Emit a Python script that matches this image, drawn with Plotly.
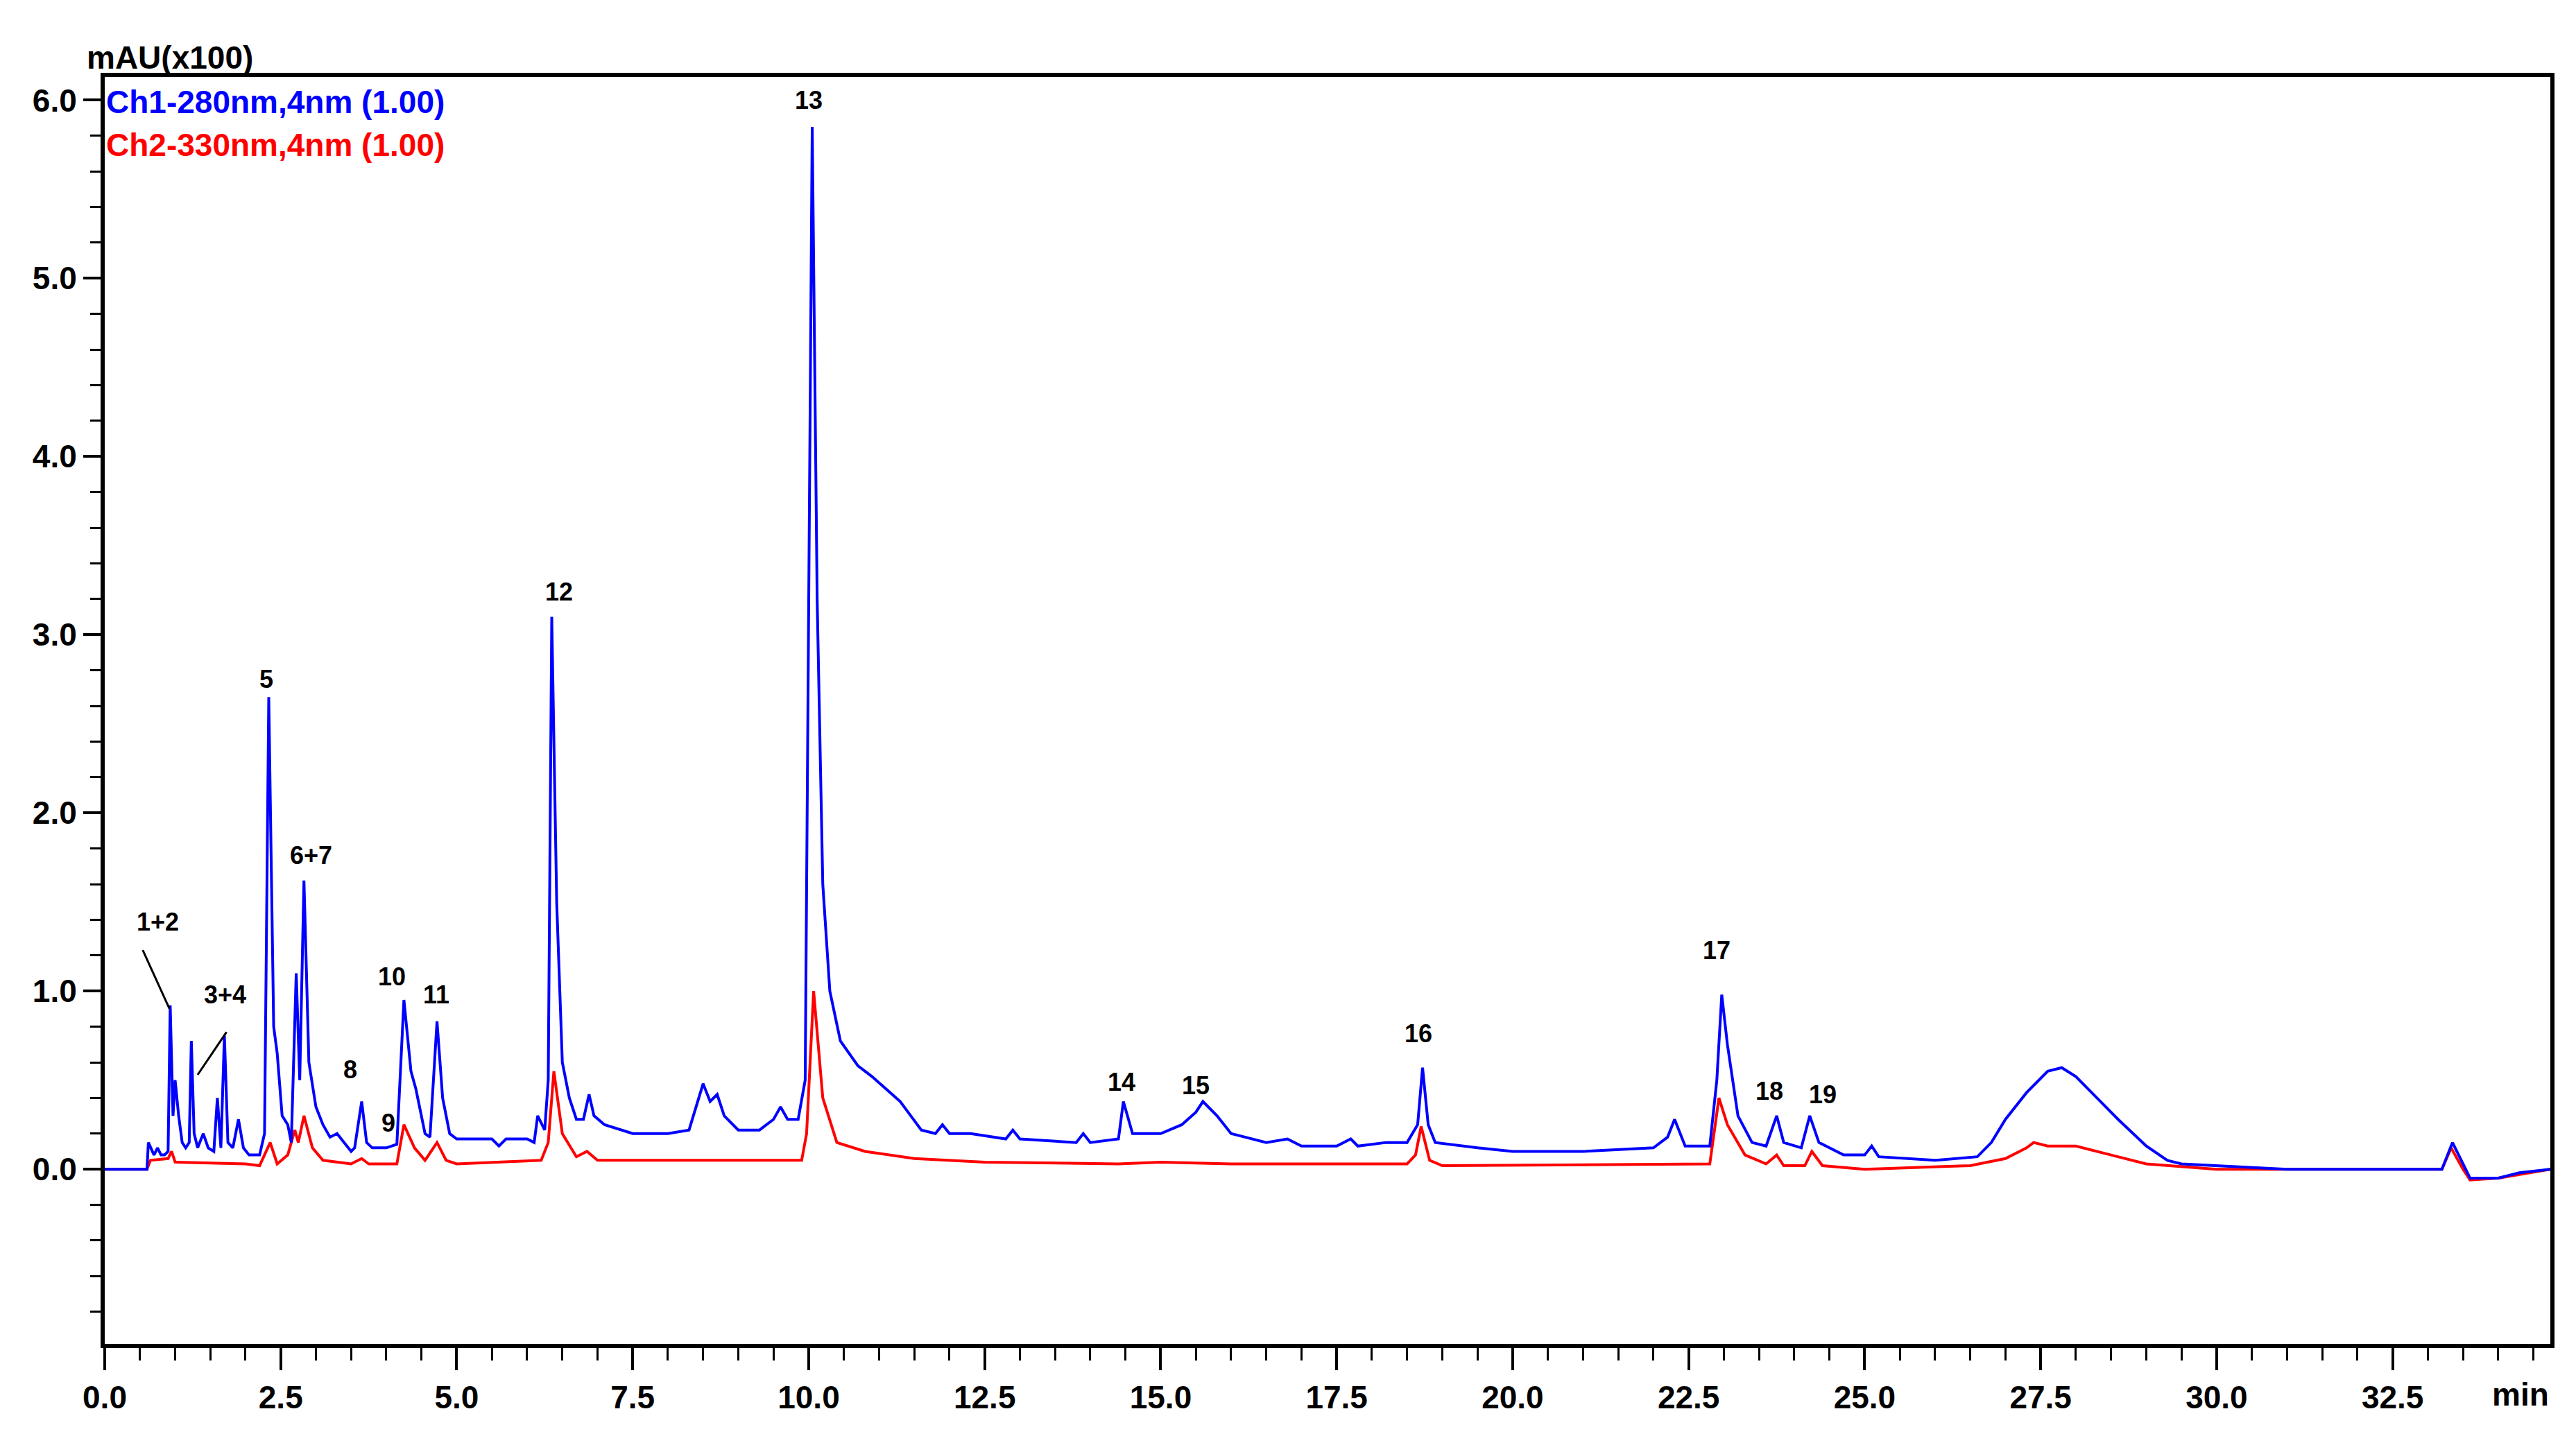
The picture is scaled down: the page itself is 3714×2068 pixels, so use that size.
import plotly.graph_objects as go

# Ch1 280 nm trace (time in min, absorbance in mAU x100)
ch1_time = [0, 0.6, 0.62, 0.7, 0.75, 0.8, 0.85, 0.9, 0.93, 0.97, 1.0, 1.05, 1.1, 1.15, 1.2, 1.23, 1.27,
            1.32, 1.4, 1.47, 1.55, 1.6, 1.65, 1.7, 1.75, 1.82, 1.9, 1.97, 2.05, 2.2, 2.27, 2.33, 2.4,
            2.45, 2.52, 2.6, 2.65, 2.72, 2.77, 2.83, 2.9, 3.0, 3.1, 3.2, 3.3, 3.4, 3.5, 3.55, 3.65,
            3.72, 3.8, 4.0, 4.15, 4.25, 4.35, 4.42, 4.55, 4.62, 4.72, 4.8, 4.9, 5.0, 5.5, 5.6, 5.7,
            6.0, 6.1, 6.15, 6.25, 6.3, 6.35, 6.42, 6.5, 6.6, 6.7, 6.8, 6.88, 6.95, 7.1, 7.5, 8.0,
            8.3, 8.5, 8.6, 8.7, 8.8, 9.0, 9.3, 9.5, 9.6, 9.7, 9.85, 9.95, 10.05, 10.12, 10.2, 10.3,
            10.45, 10.7, 10.9, 11.1, 11.3, 11.45, 11.6, 11.8, 11.9, 12.0, 12.3, 12.8, 12.9, 13.0, 13.8,
            13.9, 14.0, 14.4, 14.47, 14.6, 15.0, 15.3, 15.5, 15.6, 15.8, 16.0, 16.5, 16.8, 17.0, 17.5,
            17.7, 17.8, 18.2, 18.5, 18.65, 18.72, 18.8, 18.9, 19.5, 20.0, 21.0, 22.0, 22.2, 22.3,
            22.45, 22.8, 22.9, 22.97, 23.05, 23.2, 23.4, 23.6, 23.75, 23.85, 24.1, 24.22, 24.35,
            24.7, 25.0, 25.1, 25.2, 26.0, 26.6, 26.8, 27.0, 27.3, 27.6, 27.8, 28.0, 28.3, 28.6,
            29.0, 29.3, 29.5, 30.0, 31.0, 32.5, 33.2, 33.35, 33.5, 33.6, 34.0, 34.3, 34.74]
ch1_abs = [0, 0, 0.15, 0.08, 0.12, 0.08, 0.08, 0.1, 0.92, 0.3, 0.5, 0.3, 0.15, 0.12, 0.15, 0.72, 0.2,
           0.12, 0.2, 0.12, 0.1, 0.4, 0.12, 0.75, 0.15, 0.12, 0.28, 0.12, 0.08, 0.08, 0.2, 2.65, 0.8,
           0.65, 0.3, 0.25, 0.15, 1.1, 0.5, 1.62, 0.6, 0.35, 0.25, 0.18, 0.2, 0.15, 0.1, 0.12, 0.38,
           0.15, 0.12, 0.12, 0.14, 0.95, 0.55, 0.45, 0.2, 0.18, 0.83, 0.4, 0.2, 0.17, 0.17, 0.13, 0.17,
           0.17, 0.15, 0.3, 0.22, 0.5, 3.1, 1.5, 0.6, 0.4, 0.28, 0.28, 0.42, 0.3, 0.25, 0.2, 0.2,
           0.22, 0.48, 0.38, 0.42, 0.3, 0.22, 0.22, 0.28, 0.35, 0.28, 0.28, 0.5, 5.85, 3.2, 1.6, 1.0,
           0.72, 0.58, 0.52, 0.45, 0.38, 0.3, 0.22, 0.2, 0.25, 0.2, 0.2, 0.17, 0.22, 0.17, 0.15,
           0.2, 0.15, 0.17, 0.38, 0.2, 0.2, 0.25, 0.32, 0.38, 0.3, 0.2, 0.15, 0.17, 0.13, 0.13,
           0.17, 0.13, 0.15, 0.15, 0.25, 0.57, 0.25, 0.15, 0.12, 0.1, 0.1, 0.12, 0.18, 0.28,
           0.13, 0.13, 0.5, 0.98, 0.7, 0.3, 0.15, 0.13, 0.3, 0.15, 0.12, 0.3, 0.15,
           0.08, 0.08, 0.13, 0.07, 0.05, 0.07, 0.15, 0.28, 0.43, 0.55, 0.57, 0.52, 0.4, 0.28,
           0.13, 0.05, 0.03, 0.02, 0, 0, 0, 0.15, 0.03, -0.05, -0.05, -0.02, 0]

# Ch2 330 nm trace
ch2_time = [0, 0.6, 0.65, 0.9, 0.95, 1.0, 2.0, 2.2, 2.35, 2.45, 2.6, 2.7, 2.75, 2.83, 2.95, 3.1, 3.5,
            3.65, 3.75, 4.15, 4.25, 4.4, 4.55, 4.72, 4.85, 5.0, 6.2, 6.3, 6.38, 6.5, 6.7, 6.85, 7.0,
            9.9, 9.97, 10.07, 10.2, 10.4, 10.8, 11.5, 12.5, 14.4, 15.0, 16.0, 18.5, 18.62, 18.7,
            18.82, 19.0, 22.8, 22.93, 23.05, 23.3, 23.6, 23.75, 23.85, 24.15, 24.25, 24.4, 25.0,
            26.5, 27.0, 27.3, 27.4, 27.6, 28.0, 28.5, 29.0, 30.0, 33.2, 33.33, 33.5, 33.6, 34.0, 34.74]
ch2_abs = [0, 0, 0.05, 0.06, 0.1, 0.04, 0.03, 0.02, 0.15, 0.03, 0.08, 0.22, 0.15, 0.3, 0.12, 0.05, 0.03,
           0.06, 0.03, 0.03, 0.25, 0.12, 0.05, 0.15, 0.05, 0.03, 0.05, 0.15, 0.55, 0.2, 0.07, 0.1, 0.05,
           0.05, 0.2, 1.0, 0.4, 0.15, 0.1, 0.06, 0.04, 0.03, 0.04, 0.03, 0.03, 0.08, 0.24,
           0.05, 0.02, 0.03, 0.4, 0.25, 0.08, 0.03, 0.08, 0.02, 0.02, 0.1, 0.02, 0.0,
           0.02, 0.06, 0.12, 0.15, 0.13, 0.13, 0.08, 0.03, 0.0, 0, 0.12, 0.0, -0.06, -0.05, 0]

# peak labels
peak_names = ["1+2", "3+4", "5", "6+7", "8", "9", "10", "11", "12", "13",
              "14", "15", "16", "17", "18", "19"]
peak_x = [0.75, 1.71, 2.3, 2.93, 3.49, 4.03, 4.08, 4.71, 6.45, 10.0,
          14.44, 15.5, 18.66, 22.9, 23.65, 24.4]
peak_y = [1.39, 0.98, 2.75, 1.76, 0.56, 0.26, 1.08, 0.98, 3.24, 6.0,
          0.49, 0.47, 0.76, 1.23, 0.44, 0.42]

fig = go.Figure()
fig.add_trace(go.Scatter(x=ch2_time, y=ch2_abs, mode="lines", line=dict(color="#ff0000", width=4)))
fig.add_trace(go.Scatter(x=ch1_time, y=ch1_abs, mode="lines", line=dict(color="#0000ff", width=4)))

for name, px_, py_ in zip(peak_names, peak_x, peak_y):
    fig.add_annotation(x=px_, y=py_, text="<b>" + name + "</b>", showarrow=False,
                       font=dict(size=36, color="black", family="Liberation Sans Narrow, Liberation Sans"))

# leader lines for merged peaks
fig.add_shape(type="line", x0=0.54, y0=1.23, x1=0.92, y1=0.9, line=dict(color="black", width=3))
fig.add_shape(type="line", x0=1.32, y0=0.53, x1=1.73, y1=0.77, line=dict(color="black", width=3))

fig.add_annotation(x=0, y=1, xref="paper", yref="paper", xanchor="left", yanchor="top", yshift=-8,
                   text="<b>Ch1-280nm,4nm (1.00)</b>", showarrow=False,
                   font=dict(size=46, color="#0000ff", family="Liberation Sans"))
fig.add_annotation(x=0, y=1, xref="paper", yref="paper", xanchor="left", yanchor="top", yshift=-70,
                   text="<b>Ch2-330nm,4nm (1.00)</b>", showarrow=False,
                   font=dict(size=46, color="#ff0000", family="Liberation Sans"))
fig.add_annotation(x=-0.008, y=1, xref="paper", yref="paper", xanchor="left", yanchor="bottom",
                   text="<b>mAU(x100)</b>", showarrow=False,
                   font=dict(size=46, color="black", family="Liberation Sans"))
fig.add_annotation(x=1, y=0, xref="paper", yref="paper", xanchor="right", yanchor="top", yshift=-45,
                   text="<b>min</b>", showarrow=False,
                   font=dict(size=46, color="black", family="Liberation Sans"))

axis_font = dict(size=46, color="black", family="Liberation Sans", weight="bold")
fig.update_layout(
    width=3714, height=2068,
    margin=dict(l=143, r=45, t=103, b=138),
    plot_bgcolor="white", paper_bgcolor="white",
    showlegend=False,
    font=dict(family="Liberation Sans", color="black"),
    xaxis=dict(range=[0, 34.74], tick0=0, dtick=2.5, tickformat=".1f", ticks="outside",
               ticklen=32, tickwidth=4, tickcolor="black", showgrid=False, zeroline=False,
               showline=True, linewidth=6, linecolor="black", mirror=True,
               tickfont=axis_font, labelalias={"35.0": ""},
               minor=dict(dtick=0.5, ticks="outside", ticklen=18, tickwidth=3, tickcolor="black")),
    yaxis=dict(range=[-0.98, 6.13], tick0=0, dtick=1, tickformat=".1f", ticks="outside",
               ticklen=25, tickwidth=4, tickcolor="black", showgrid=False, zeroline=False,
               showline=True, linewidth=6, linecolor="black", mirror=True,
               tickfont=axis_font, labelalias={"-1.0": ""},
               minor=dict(dtick=0.2, ticks="outside", ticklen=15, tickwidth=3, tickcolor="black")),
)

fig.write_html("out.html")
